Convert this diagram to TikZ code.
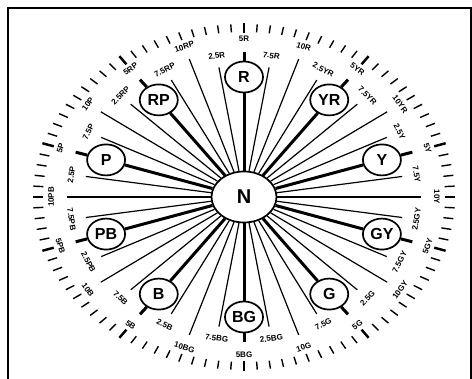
\documentclass[tikz,border=0pt]{standalone}
\usepackage{fontspec}
\setmainfont{Liberation Sans}
\usetikzlibrary{shapes.geometric}
\tikzset{
  hue/.style={draw,ellipse,line width=1.7pt,fill=white,minimum width=38pt,minimum height=31pt,inner sep=0pt,font=\bfseries\fontsize{16}{16}\selectfont},
  hub/.style={draw,ellipse,line width=1.7pt,fill=white,minimum width=65pt,minimum height=51pt,font=\bfseries\fontsize{20}{20}\selectfont},
  spoke/.style={line width=1.2pt},
  mainspoke/.style={line width=3pt},
  steplabel/.style={inner sep=0.3pt,font=\bfseries\fontsize{8}{8}\selectfont},
  ticky/.style={line width=1.4pt}
}
\begin{document}
\begin{tikzpicture}[x=1pt,y=1pt]
  \useasboundingbox (0,0) rectangle (472,379);
  \draw[line width=1.8pt] (8,-2) rectangle (471,371);
  \node[hub] (N) at (244,182) {N};
  % hue circles
  \foreach \name/\a [count=\i] in {R/90,YR/54,Y/18,GY/-18,G/-54,BG/-90,B/-126,PB/-162,P/162,RP/126}
    \node[hue] (h\i) at ({244+145*cos(\a)},{182+120*sin(\a)}) {\name};
  % labels and spoke ends
  \foreach \t [count=\k from 0] in {5R,7.5R,10R,2.5YR,5YR,7.5YR,10YR,2.5Y,5Y,7.5Y,10Y,2.5GY,5GY,7.5GY,10GY,2.5G,5G,7.5G,10G,2.5BG,5BG,7.5BG,10BG,2.5B,5B,7.5B,10B,2.5PB,5PB,7.5PB,10PB,2.5P,5P,7.5P,10P,2.5RP,5RP,7.5RP,10RP,2.5R}{
    \pgfmathsetmacro\ang{90-9*\k}
    \pgfmathsetmacro\rr{mod(\k,2)==0 ? 1 : 0.905}
    \pgfmathsetmacro\rot{sin(\ang)>=-0.01 ? \ang-90 : \ang+90}
    \coordinate (e\k) at ({244+177*\rr*cos(\ang)},{182+145*\rr*sin(\ang)});
    \node[steplabel,rotate=\rot] (l\k) at ({244+193*\rr*cos(\ang)},{182+158*\rr*sin(\ang)}) {\t};
  }
  % spokes
  \foreach \m in {1,...,10}{
    \pgfmathtruncatemacro\k{4*(\m-1)}
    \draw[mainspoke] (N) -- (h\m);
    \draw[mainspoke] (h\m) -- (e\k);
  }
  \foreach \m in {0,...,9}
    \foreach \d in {1,2,3}{
      \pgfmathtruncatemacro\k{4*\m+\d}
      \draw[spoke] (N) -- (e\k);
    }
  % outer scale
  \foreach \j in {0,...,99}{
    \pgfmathsetmacro\ta{90-3.6*\j}
    \draw[ticky] ({244+201*cos(\ta)},{182+165*sin(\ta)}) -- ({244+211*cos(\ta)},{182+173*sin(\ta)});
  }
  \foreach \j in {0,...,9}{
    \pgfmathsetmacro\ta{90-36*\j}
    \draw[line width=2.4pt] ({244+200*cos(\ta)},{182+164*sin(\ta)}) -- ({244+212*cos(\ta)},{182+174*sin(\ta)});
  }
\end{tikzpicture}
\end{document}
